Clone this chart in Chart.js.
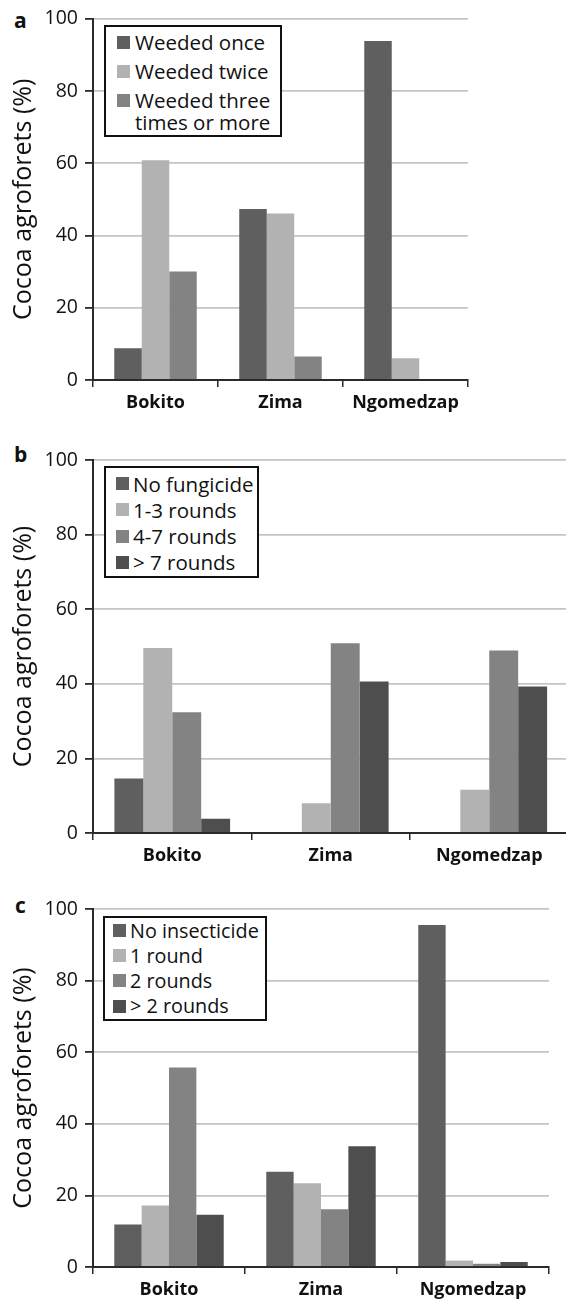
<!DOCTYPE html>
<html>
<head>
<meta charset="utf-8">
<script src="https://cdn.jsdelivr.net/npm/chart.js@4.4.1/dist/chart.umd.min.js"></script>
<style>
  html, body { margin: 0; padding: 0; background: #fff; }
  body { width: 566px; height: 1303px; overflow: hidden; position: relative; font-family: "Open Sans", sans-serif; }
  .panel { position: absolute; left: 0; }
  .tag { position: absolute; font: bold 21px "Open Sans", sans-serif; color: #111; line-height: 1; }
  .legend { position: absolute; box-sizing: border-box; border: 2px solid #111; background: #fff; }
  .legend .row { position: absolute; display: flex; align-items: flex-start; color: #111; white-space: pre; }
  .legend .sq { flex: none; width: 13px; height: 13px; }
</style>
</head>
<body>

<div class="tag" style="left:14px; top:10px;">a</div>
<div class="tag" style="left:14px; top:444px;">b</div>
<div class="tag" style="left:15px; top:895px;">c</div>

<div class="panel" style="top:0px;"><canvas id="chartA" width="480" height="430"></canvas></div>
<div class="panel" style="top:440px;"><canvas id="chartB" width="580" height="440"></canvas></div>
<div class="panel" style="top:880px;"><canvas id="chartC" width="560" height="423"></canvas></div>

<script>
// Sites surveyed
const sites = ['Bokito', 'Zima', 'Ngomedzap'];

// Y axis ticks (%)
const yTicks = [0, 20, 40, 60, 80, 100];

// (a) weeding frequency, % of cocoa agroforests
const weedLabels = [['Weeded once'], ['Weeded twice'], ['Weeded three', 'times or more']];
const weededOnce = [8.8, 47.3, 93.8];
const weededTwice = [60.8, 46.1, 6.0];
const weededThreePlus = [30.0, 6.5, 0];

// (b) fungicide treatments per year
const fungLabels = [['No fungicide'], ['1-3 rounds'], ['4-7 rounds'], ['> 7 rounds']];
const noFungicide = [14.6, 0, 0];
const fung1to3 = [49.6, 8.0, 11.6];
const fung4to7 = [32.4, 50.9, 48.9];
const fungOver7 = [3.8, 40.6, 39.3];

// (c) insecticide treatments per year
const insLabels = [['No insecticide'], ['1 round'], ['2 rounds'], ['> 2 rounds']];
const noInsecticide = [11.9, 26.6, 95.5];
const ins1 = [17.2, 23.4, 1.8];
const ins2 = [55.7, 16.1, 0.9];
const insOver2 = [14.6, 33.7, 1.4];

// Grey fills shared by the series
const greys = ['#5f5f5f', '#b2b2b2', '#838383', '#4e4e4e'];

const AXIS = '#2a2a2a';
const TEXT = '#111111';
const GRID = '#c4c4c4';

function makePanel(canvasId, labelSets, seriesSets, layout) {
  const datasets = seriesSets.map((values, i) => ({
    label: labelSets[i].join(' '),
    legendLines: labelSets[i],
    data: values,
    backgroundColor: greys[i],
    borderWidth: 0,
    categoryPercentage: layout.catPct,
    barPercentage: 1.0
  }));

  const chart = new Chart(document.getElementById(canvasId), {
    type: 'bar',
    data: { labels: sites, datasets },
    options: {
      responsive: false,
      animation: false,
      events: [],
      layout: { padding: { left: 0, top: layout.padTop, right: layout.padRight, bottom: 0 } },
      plugins: { legend: { display: false }, tooltip: { enabled: false } },
      scales: {
        x: {
          grid: { offset: true, drawOnChartArea: false, drawTicks: true, tickLength: 7, tickColor: AXIS, lineWidth: 1.5 },
          border: { color: AXIS, width: 2 },
          ticks: { color: TEXT, padding: 5, font: { family: 'Open Sans', size: 18, weight: 'bold' } },
          afterFit: s => { s.height = layout.xHeight; }
        },
        y: {
          min: 0, max: 100,
          afterBuildTicks: s => { s.ticks = yTicks.map(v => ({ value: v })); },
          grid: { color: GRID, lineWidth: 1.8, drawTicks: true, tickLength: 8, tickColor: AXIS },
          border: { color: AXIS, width: 2 },
          ticks: { color: TEXT, padding: 7, font: { family: 'Open Sans', size: 19.5 } },
          title: {
            display: true, text: 'Cocoa agroforets (%)', color: TEXT,
            font: { family: 'Open Sans', size: 25 }, padding: { top: 9, bottom: 0 }
          },
          afterFit: s => { s.width = 93; }
        }
      }
    }
  });

  // Boxed legend inside the plot area
  const lg = layout.legend;
  const box = document.createElement('div');
  box.className = 'legend';
  Object.assign(box.style, {
    left: lg.left + 'px', top: lg.top + 'px', width: lg.width + 'px', height: lg.height + 'px'
  });
  chart.data.datasets.forEach((ds, i) => {
    const row = document.createElement('div');
    row.className = 'row';
    Object.assign(row.style, {
      left: lg.sqLeft + 'px',
      top: (lg.first + i * lg.gap - lg.lh / 2) + 'px',
      lineHeight: lg.lh + 'px',
      fontSize: lg.size + 'px'
    });
    const sq = document.createElement('span');
    sq.className = 'sq';
    sq.style.background = ds.backgroundColor;
    sq.style.marginTop = ((lg.lh - 13) / 2) + 'px';
    const tx = document.createElement('span');
    tx.textContent = ds.legendLines.join('\n');
    tx.style.marginLeft = lg.textGap + 'px';
    row.appendChild(sq);
    row.appendChild(tx);
    box.appendChild(row);
  });
  document.body.appendChild(box);
  return chart;
}

makePanel('chartA', weedLabels, [weededOnce, weededTwice, weededThreePlus], {
  catPct: 0.66, padTop: 18, padRight: 12, xHeight: 50,
  legend: { left: 104, top: 25, width: 178, height: 112, sqLeft: 11, first: 15, gap: 29, lh: 22, textGap: 5, size: 20.5 }
});

makePanel('chartB', fungLabels, [noFungicide, fung1to3, fung4to7, fungOver7], {
  catPct: 0.73, padTop: 20, padRight: 11.5, xHeight: 47,
  legend: { left: 104, top: 466, width: 155, height: 112, sqLeft: 10, first: 15.5, gap: 26.3, lh: 24, textGap: 4, size: 20.5 }
});

makePanel('chartC', insLabels, [noInsecticide, ins1, ins2, insOver2], {
  catPct: 0.72, padTop: 29, padRight: 11, xHeight: 36,
  legend: { left: 103, top: 916, width: 164, height: 105, sqLeft: 8, first: 12.5, gap: 25.2, lh: 24, textGap: 4, size: 19.8 }
});
</script>
</body>
</html>
